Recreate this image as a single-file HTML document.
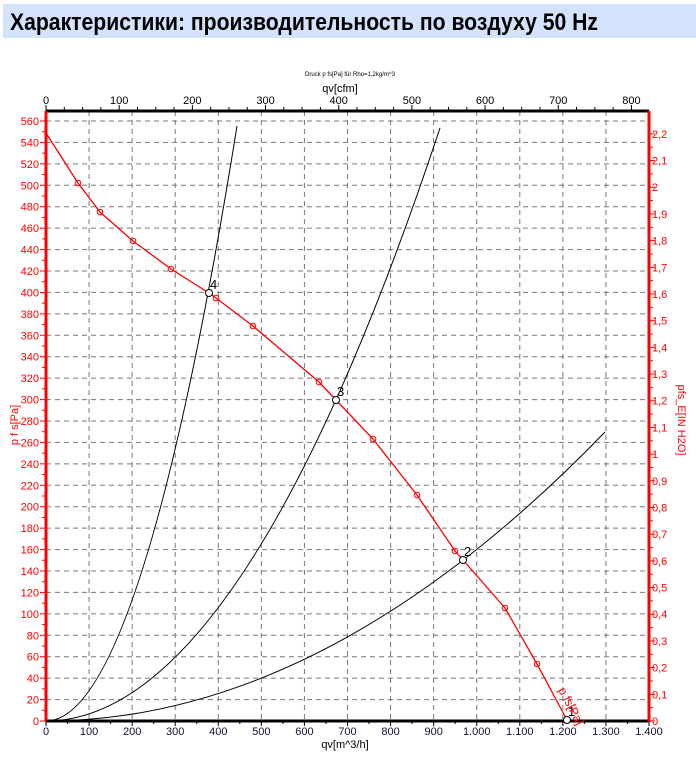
<!DOCTYPE html>
<html><head><meta charset="utf-8"><style>
html,body{margin:0;padding:0;background:#fff;width:696px;height:762px;overflow:hidden}
svg{display:block;font-family:"Liberation Sans",sans-serif}
</style></head><body>
<svg id="s" width="696" height="762" xmlns="http://www.w3.org/2000/svg">
<rect x="3" y="4" width="693" height="34" fill="#d4e3fd"/>
<text x="10" y="30" font-size="24" font-weight="bold" textLength="588" lengthAdjust="spacingAndGlyphs" font-family="'Liberation Sans','Noto Sans CJK SC',sans-serif">Характеристики: производительность по воздуху 50 Hz</text>
<text x="305" y="76" font-size="6" fill="#000">Druck p fs[Pa] für Rho=1,2kg/m^3</text>
<text x="340" y="92" font-size="11" text-anchor="middle">qv[cfm]</text>
<text x="345" y="748" font-size="11" text-anchor="middle">qv[m^3/h]</text>
<text x="18" y="425" font-size="11" fill="#f00" text-anchor="middle" transform="rotate(-90 18 425)">p f s[Pa]</text>
<text x="678" y="420" font-size="11" fill="#f00" text-anchor="middle" transform="rotate(90 678 420)">pfs_E[IN H2O]</text>
<g id="g"></g>
</svg>
<script>
var g=document.getElementById('g'),h='';
var X0=46,Y0=721,sx=603/1400,sy=600/560;
function X(v){return X0+v*sx} function Y(p){return Y0-p*sy}
// grid
for(var v=100;v<1400;v+=100)h+='<line x1="'+X(v)+'" y1="111" x2="'+X(v)+'" y2="721" stroke="#777" stroke-dasharray="5,4"/>';
for(var p=20;p<=560;p+=20)h+='<line x1="46" y1="'+Y(p)+'" x2="649" y2="'+Y(p)+'" stroke="#777" stroke-dasharray="5,4"/>';
// left ticks/labels
for(var p=0;p<=560;p+=10){var y=Y(p);h+='<line x1="'+(p%20?42:40)+'" y1="'+y+'" x2="46" y2="'+y+'" stroke="#f00"/>';if(p%20==0)h+='<text x="39" y="'+(y+4)+'" font-size="11" fill="#f00" text-anchor="end">'+p+'</text>';}
// right ticks
for(var i=0;i<=44;i++){var y=Y(i*0.05*249.09);h+='<line x1="649" y1="'+y+'" x2="'+(i%2?653:655)+'" y2="'+y+'" stroke="#f00"/>';if(i%2==0){var s=(i/20).toFixed(1).replace('.',',').replace(',0','');h+='<text x="652" y="'+(y+4)+'" font-size="11" fill="#f00">'+s+'</text>';}}
// bottom ticks
for(var v=0;v<=1400;v+=50){var x=X(v);h+='<line x1="'+x+'" y1="721" x2="'+x+'" y2="'+(v%100?724:726)+'" stroke="#000"/>';if(v%100==0){var s=v>=1000?(Math.floor(v/1000)+'.'+String(v%1000).padStart(3,'0')):String(v);h+='<text x="'+x+'" y="735" font-size="11" text-anchor="middle" fill="#113">'+s+'</text>';}}
// top ticks cfm
for(var c=0;c<=800;c+=25){var x=X(c*1.699);h+='<line x1="'+x+'" y1="111" x2="'+x+'" y2="'+(c%100?107:105)+'" stroke="#000"/>';if(c%100==0)h+='<text x="'+x+'" y="104" font-size="11" text-anchor="middle">'+c+'</text>';}
// axes
h+='<line x1="46" y1="721" x2="649" y2="721" stroke="#000" stroke-width="3"/>';
h+='<line x1="46" y1="111" x2="649" y2="111" stroke="#000" stroke-width="3"/>';
h+='<line x1="46" y1="111" x2="46" y2="722" stroke="#f00" stroke-width="3"/>';
h+='<line x1="649" y1="111" x2="649" y2="722" stroke="#f00" stroke-width="3"/>';
// black parabolas
h+='<path d="M46 721 Q'+(46+95.5)+' 721 237 126" fill="none" stroke="#000"/>';
h+='<path d="M46 721 Q'+(46+197)+' 721 440 128" fill="none" stroke="#000"/>';
h+='<path d="M46 721 Q'+(46+279.5)+' 721 605 432" fill="none" stroke="#000"/>';
// red curve
var pts=[[46,133],[78,183],[100,212],[133,241],[171,269],[209,293],[216,298],[253,326],[319,382],[336,400],[373,439],[417,495],[455,551],[463,560],[505,608],[537,664],[567,720]];
h+='<polyline points="'+pts.map(function(q){return q.join(',')}).join(' ')+'" fill="none" stroke="#f00" stroke-width="1.3"/>';
[[78,183],[100,212],[133,241],[171,269],[216,298],[253,326],[319,382],[373,439],[417,495],[455,551],[505,608],[537,664]].forEach(function(q){h+='<circle cx="'+q[0]+'" cy="'+q[1]+'" r="2.8" fill="none" stroke="#f00"/>';});
[[209,293,'4'],[336,400,'3'],[463,560,'2'],[567,720,'1']].forEach(function(q){h+='<circle cx="'+q[0]+'" cy="'+q[1]+'" r="3.5" fill="#fff" stroke="#000"/><text x="'+(q[0]+1)+'" y="'+(q[1]-4)+'" font-size="13">'+q[2]+'</text>';});
h+='<text x="558" y="690" font-size="12" fill="#f00" transform="rotate(62 558 690)">p fs[Pa]</text>';
g.innerHTML=h;
</script>
</body></html>
